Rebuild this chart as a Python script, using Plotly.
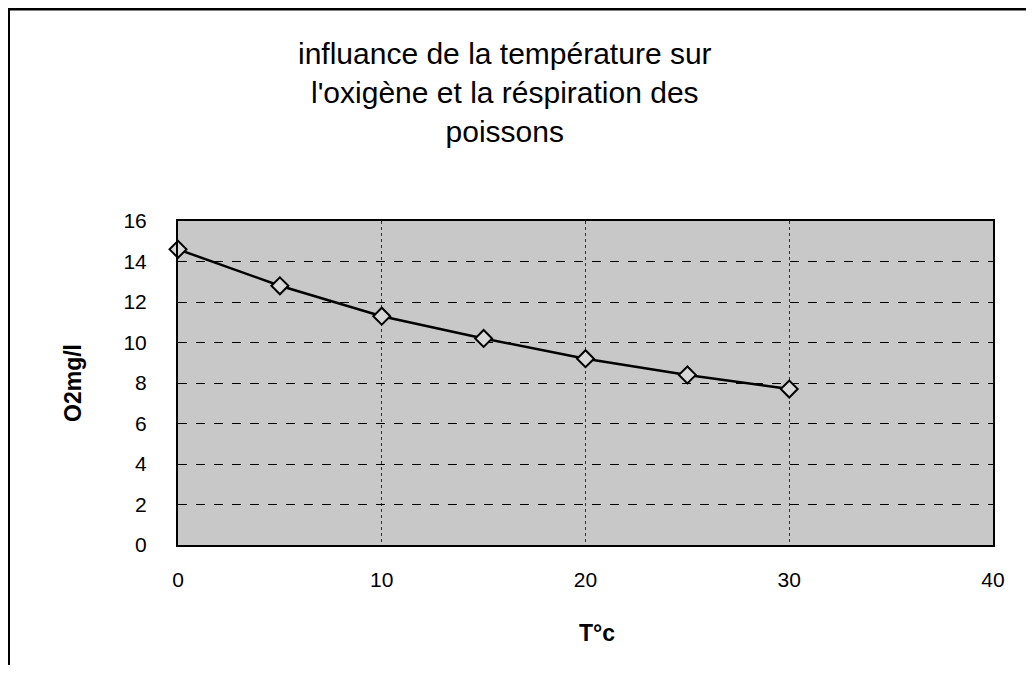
import plotly.graph_objects as go

temperature = [0, 5, 10, 15, 20, 25, 30]
oxygen = [14.6, 12.8, 11.3, 10.2, 9.2, 8.4, 7.7]
x_ticks = [0, 10, 20, 30, 40]
y_ticks = [0, 2, 4, 6, 8, 10, 12, 14, 16]

title_text = "influance de la température sur<br>l'oxigène et la réspiration des<br>poissons"
x_title = "<b>T°c</b>"
y_title = "<b>O2mg/l</b>"

# the page body adds an 8px offset; figure coords = screen - 8
OFF = 8
W, H = 1034 - OFF, 673 - 2 * OFF
L, R, T, B = 178 - OFF, 993 - OFF, 221 - OFF, 545 - OFF


def px(x):
    return (x - OFF - L) / (R - L)


def py(y):
    return (B - (y - OFF)) / (B - T)


fig = go.Figure()
fig.add_trace(go.Scatter(
    x=temperature, y=oxygen, mode="lines+markers",
    line=dict(color="black", width=2.5),
    marker=dict(symbol="diamond", size=13, color="#d8d8d8",
                line=dict(color="black", width=2)),
    showlegend=False, cliponaxis=False,
))

font_family = "Liberation Sans, Arial, sans-serif"

fig.update_layout(
    width=W, height=H,
    margin=dict(l=L, r=W - R, t=T, b=H - B, autoexpand=False),
    paper_bgcolor="white",
    plot_bgcolor="#c8c8c8",
    font=dict(family=font_family, color="black", size=21),
    xaxis=dict(range=[0, 40], tickvals=x_ticks, ticks="", showgrid=True,
               gridcolor="#333333", griddash="dot", gridwidth=1,
               showline=True, linecolor="black", linewidth=2, mirror=True,
               zeroline=False, ticklabelstandoff=15,
               tickfont=dict(size=21)),
    yaxis=dict(range=[0, 16], tickvals=y_ticks, ticks="", showgrid=True,
               gridcolor="black", griddash="dash", gridwidth=1,
               showline=True, linecolor="black", linewidth=2, mirror=True,
               zeroline=False, ticklabelstandoff=25,
               tickfont=dict(size=21)),
)

fig.add_annotation(text=title_text, xref="paper", yref="paper",
                   x=px(505), y=py(35), xanchor="center", yanchor="top",
                   showarrow=False, align="center",
                   font=dict(size=30, family=font_family, color="black"))
fig.add_annotation(text=x_title, xref="paper", yref="paper",
                   x=px(597), y=py(633), xanchor="center", yanchor="middle",
                   showarrow=False, font=dict(size=23, family=font_family))
fig.add_annotation(text=y_title, xref="paper", yref="paper",
                   x=px(73), y=py(383), xanchor="center", yanchor="middle",
                   showarrow=False, textangle=-90,
                   font=dict(size=23, family=font_family))

frame = dict(color="black", width=3)
fig.add_shape(type="line", xref="paper", yref="paper",
              x0=px(8), x1=px(1032), y0=py(9), y1=py(9), line=frame)
fig.add_shape(type="line", xref="paper", yref="paper",
              x0=px(9), x1=px(9), y0=py(9), y1=py(680), line=dict(color="black", width=2))
fig.add_shape(type="line", xref="paper", yref="paper",
              x0=px(1032), x1=px(1032), y0=py(9), y1=py(165), line=dict(color="black", width=2))
fig.add_shape(type="line", xref="paper", yref="paper",
              x0=px(836), x1=px(1034), y0=py(671), y1=py(671), line=dict(color="#777777", width=2))

fig.write_html("out.html")
